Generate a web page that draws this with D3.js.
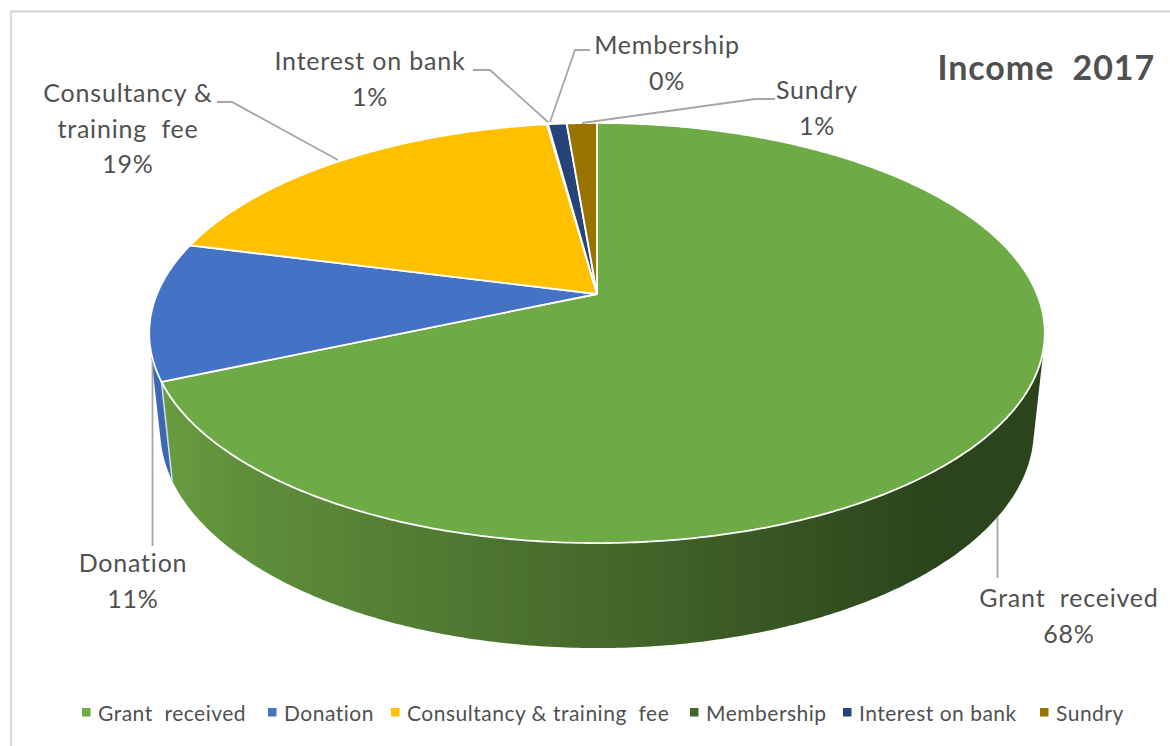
<!DOCTYPE html>
<html>
<head>
<meta charset="utf-8">
<script src="https://cdn.jsdelivr.net/npm/d3@7"></script>
<style>
  html, body { margin: 0; background: #fff; }
  text { font-family: Lato, "Open Sans", sans-serif; fill: #505050; white-space: pre; }
</style>
</head>
<body>
<div id="chart"></div>
<script>
// Data (share of income, %)
const categories = ["Grant  received", "Donation", "Consultancy & training  fee", "Membership", "Interest on bank", "Sundry"];
const shares = [68.4, 10.6, 18.8, 0.05, 0.8, 1.3];
const colors = ["#6eaa46", "#4472c4", "#ffc000", "#43682b", "#264478", "#997300"];
const title = "Income  2017";

const width = 1170, height = 746;

const svg = d3.select("#chart").append("svg")
  .attr("width", width)
  .attr("height", height)
  .style("display", "block");

// chart frame, only top and left edge are visible
svg.append("path")
  .attr("d", "M1170,11.5H11V746")
  .attr("fill", "none")
  .attr("stroke", "#dcdcdc")
  .attr("stroke-width", 2.5);

// the pie is tilted: centre of the circle lands above the centre of the rim ellipse
const apex = { x: 597, y: 294 };
const persp = { a: 202.8, c: 0.1857, d: 440 };
const topRim = { x: 597, y: 333, rx: 448, ry: 210 };
const bottomRim = { x: 597, y: 430, rx: 437, ry: 218 };

function project(angle) {
  const w = 1 + persp.c * Math.cos(angle);
  return [
    apex.x + (persp.d * Math.sin(angle)) / w,
    apex.y - (persp.a * Math.cos(angle)) / w
  ];
}

// same point moved down onto the bottom rim
function drop(p) {
  return [
    bottomRim.x + ((p[0] - topRim.x) * bottomRim.rx) / topRim.rx,
    bottomRim.y + ((p[1] - topRim.y) * bottomRim.ry) / topRim.ry
  ];
}

function rimPoints(d) {
  const steps = Math.max(2, Math.ceil((d.endAngle - d.startAngle) / 0.01));
  return d3.range(steps + 1).map(i => project(d.startAngle + ((d.endAngle - d.startAngle) * i) / steps));
}

const slices = d3.pie().sort(null).value(d => d)(shares);
const line = d3.line();

// shade for the side wall
const defs = svg.append("defs");
const wallShades = [
  ["#6b9f42", "#5f8f3b", "#46692b", "#2b441b"],
  ["#3e68b4", "#3a61a8", "#2f4f8a", "#22396a"]
];
wallShades.forEach((shade, i) => {
  defs.append("linearGradient")
    .attr("id", "wall" + i)
    .attr("gradientUnits", "userSpaceOnUse")
    .attr("x1", 150).attr("x2", 1045).attr("y1", 0).attr("y2", 0)
    .selectAll("stop")
    .data([0, 0.1, 0.5, 0.88])
    .enter()
    .append("stop")
    .attr("offset", d => d)
    .attr("stop-color", (d, j) => shade[j]);
});

// walls, the visible ones are donation and grant so grant goes last
svg.append("g")
  .selectAll("path")
  .data(slices.slice().reverse())
  .enter()
  .append("path")
  .attr("d", d => {
    const pts = rimPoints(d);
    return line(d3.polygonHull(pts.concat(pts.map(drop)))) + "Z";
  })
  .attr("fill", d => (d.index < 2 ? "url(#wall" + d.index + ")" : colors[d.index]));

// cut edge between grant and donation
const cut = project(slices[0].endAngle);
svg.append("path")
  .attr("d", line([cut, drop(cut)]))
  .attr("stroke", "#cfe0f0")
  .attr("stroke-width", 1.5)
  .attr("fill", "none");

// top faces
svg.append("g")
  .selectAll("path")
  .data(slices)
  .enter()
  .append("path")
  .attr("d", d => line([[apex.x, apex.y]].concat(rimPoints(d))) + "Z")
  .attr("fill", (d, i) => colors[i])
  .attr("stroke", "#fff")
  .attr("stroke-width", 1.8)
  .attr("stroke-linejoin", "round");

// leader lines
const leaders = [
  [[997.5, 517], [997.5, 578]],
  [[152.5, 362], [152.5, 546]],
  [[217, 102], [232, 102], [338, 160]],
  [[590, 50], [575, 50], [550, 122]],
  [[473, 70], [490, 70], [548, 122]],
  [[775, 99], [755, 99], [582, 123]]
];
svg.append("g")
  .selectAll("path")
  .data(leaders)
  .enter()
  .append("path")
  .attr("d", d => line(d))
  .attr("fill", "none")
  .attr("stroke", "#a6a6a6")
  .attr("stroke-width", 1.8);

// data labels, the consultancy one wraps in two lines
const pct = d3.format(".0%");
const total = d3.sum(shares);
const labelLines = categories.map((c, i) => {
  const parts = i === 2 ? ["Consultancy &", "training  fee"] : [c];
  return parts.concat(pct(shares[i] / total));
});
const labelPos = [
  { x: 1069, y: 607 },
  { x: 133, y: 572 },
  { x: 128, y: 102 },
  { x: 667, y: 54 },
  { x: 370, y: 70 },
  { x: 817, y: 99 }
];
const labels = svg.append("g")
  .selectAll("text")
  .data(labelLines)
  .enter()
  .append("text")
  .attr("text-anchor", "middle")
  .attr("font-size", 25)
  .attr("letter-spacing", 0.8);
labels.selectAll("tspan")
  .data((d, i) => d.map(t => ({ t: t, i: i })))
  .enter()
  .append("tspan")
  .attr("x", d => labelPos[d.i].x)
  .attr("y", (d, j) => labelPos[d.i].y + j * 35.5)
  .text(d => d.t);

// title
svg.append("text")
  .attr("x", 1155)
  .attr("y", 80)
  .attr("text-anchor", "end")
  .attr("font-size", 34)
  .attr("font-weight", 700)
  .attr("letter-spacing", 0.9)
  .text(title);

// legend
const legendX = [82, 268, 391, 690, 843, 1040];
const legend = svg.append("g")
  .selectAll("g")
  .data(categories)
  .enter()
  .append("g")
  .attr("transform", (d, i) => "translate(" + legendX[i] + ",708)");
legend.append("rect")
  .attr("width", 8.5)
  .attr("height", 8.5)
  .attr("fill", (d, i) => colors[i]);
legend.append("text")
  .attr("x", 16)
  .attr("y", 13)
  .attr("font-size", 21)
  .attr("letter-spacing", 0.5)
  .text(d => d);
</script>
</body>
</html>
